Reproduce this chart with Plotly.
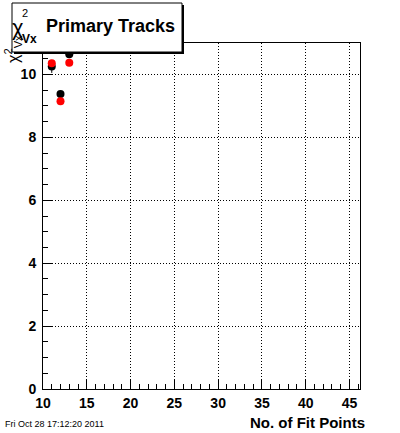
import plotly.graph_objects as go

fit_points = [11, 12, 13]
black_vals = [10.25, 9.38, 10.64]
black_err = [0.2, 0.06, 0.06]
red_vals = [10.36, 9.15, 10.37]
red_err = [0.05, 0.05, 0.05]

W, H = 400, 433
L, R, T, B = 43, 40, 43, 44
pw, ph = W - L - R, H - T - B

def px(x):
    return (x - L) / pw

def py(y):
    return (H - B - y) / ph

fig = go.Figure()
fig.add_trace(go.Scatter(x=fit_points, y=black_vals, mode="markers",
                         marker=dict(color="black", size=8, symbol="circle"),
                         error_y=dict(type="data", array=black_err, color="black", width=0, thickness=1),
                         showlegend=False, cliponaxis=True))
fig.add_trace(go.Scatter(x=fit_points, y=red_vals, mode="markers",
                         marker=dict(color="red", size=8, symbol="circle"),
                         error_y=dict(type="data", array=red_err, color="red", width=0, thickness=1),
                         showlegend=False, cliponaxis=True))

font = dict(family="Liberation Sans, Arial, sans-serif", size=14, color="black")
tickfont = dict(family="Liberation Sans", size=14, color="black", weight="bold")

fig.update_layout(
    width=W, height=H,
    margin=dict(l=L, r=R, t=T, b=B),
    paper_bgcolor="white", plot_bgcolor="white",
    font=font,
    xaxis=dict(range=[10, 46.2], tickvals=[10, 15, 20, 25, 30, 35, 40, 45],
               ticks="inside", ticklen=9, tickcolor="black", tickwidth=1,
               minor=dict(dtick=1, tick0=10, ticks="inside", ticklen=5, tickcolor="black", showgrid=False),
               showline=True, linecolor="black", linewidth=1, mirror=True,
               showgrid=True, gridcolor="black", griddash="1px,2px", gridwidth=1,
               zeroline=False, tickfont=tickfont, ticklabelstandoff=1),
    yaxis=dict(range=[0, 11], tickvals=[0, 2, 4, 6, 8, 10],
               ticks="inside", ticklen=9, tickcolor="black", tickwidth=1,
               minor=dict(dtick=0.5, tick0=0, ticks="inside", ticklen=5, tickcolor="black", showgrid=False),
               showline=True, linecolor="black", linewidth=1, mirror=True,
               showgrid=True, gridcolor="black", griddash="1px,2px", gridwidth=1,
               zeroline=False, tickfont=tickfont, ticklabelstandoff=3),
)

# Y axis title (partly hidden behind title box)
fig.add_annotation(xref="paper", yref="paper", x=px(13), y=py(65), xanchor="center", yanchor="bottom",
                   text="χ<sup>2</sup><sub>Vx</sub>", textangle=-90, showarrow=False,
                   font=dict(family="Liberation Sans", size=16, color="black"))

# Title box with shadow
fig.add_shape(type="rect", xref="paper", yref="paper", x0=px(14), x1=px(184), y0=py(5), y1=py(54),
              fillcolor="black", line=dict(width=0), layer="above")
fig.add_shape(type="rect", xref="paper", yref="paper", x0=px(12), x1=px(182), y0=py(3), y1=py(52),
              fillcolor="white", line=dict(color="black", width=1), layer="above")
fig.add_annotation(xref="paper", yref="paper", x=px(18), y=py(28), xanchor="center", yanchor="middle",
                   text="χ", showarrow=False,
                   font=dict(family="Liberation Sans", size=22, color="black"))
fig.add_annotation(xref="paper", yref="paper", x=px(25), y=py(13), xanchor="center", yanchor="middle",
                   text="2", showarrow=False,
                   font=dict(family="Liberation Sans", size=11, color="black"))
fig.add_annotation(xref="paper", yref="paper", x=px(29), y=py(39), xanchor="center", yanchor="middle",
                   text="<b>Vx</b>", showarrow=False,
                   font=dict(family="Liberation Sans", size=12, color="black"))
fig.add_annotation(xref="paper", yref="paper", x=px(110), y=py(26), xanchor="center", yanchor="middle",
                   text="<b>Primary Tracks</b>", showarrow=False,
                   font=dict(family="Liberation Sans", size=18, color="black"))

# X axis title
fig.add_annotation(xref="paper", yref="paper", x=px(367), y=py(422), xanchor="right", yanchor="middle",
                   text="<b>No. of Fit Points</b>", showarrow=False,
                   font=dict(family="Liberation Sans", size=15, color="black"))

# Date stamp
fig.add_annotation(xref="paper", yref="paper", x=px(3), y=py(424), xanchor="left", yanchor="middle",
                   text="Fri Oct 28 17:12:20 2011", showarrow=False,
                   font=dict(family="Liberation Sans", size=9, color="black"))

fig.write_html("out.html", config={"displayModeBar": False},
               post_script="document.body.style.margin='0px';")
